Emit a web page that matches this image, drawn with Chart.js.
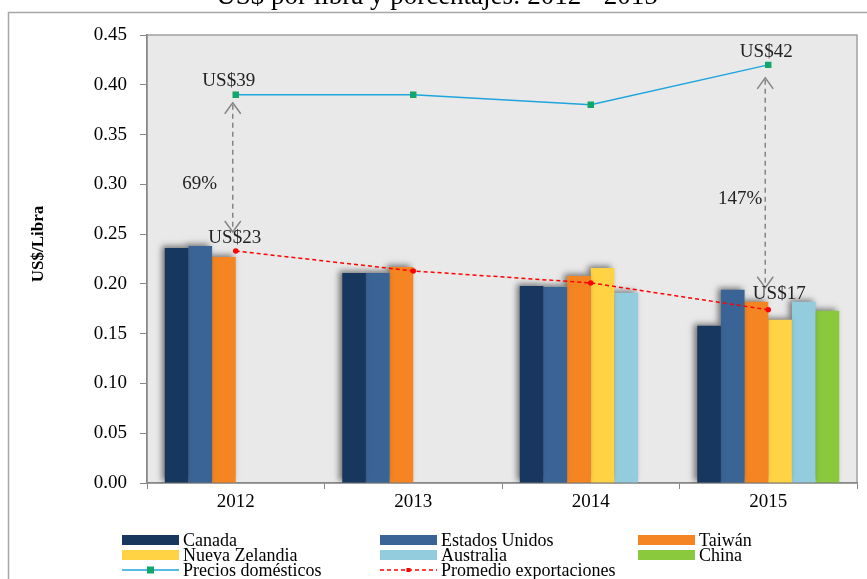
<!DOCTYPE html>
<html lang="es">
<head>
<meta charset="UTF-8">
<title>US$ por libra</title>
<style>
  html, body { margin: 0; padding: 0; background: #fff; }
  canvas { display: block; }
</style>
</head>
<body>
<canvas id="chart" width="867" height="579"></canvas>
<script src="https://cdn.jsdelivr.net/npm/chart.js@4.4.1/dist/chart.umd.min.js"></script>
<script>
// datos
var years = ['2012', '2013', '2014', '2015'];
var canada = [0.236, 0.211, 0.198, 0.158];
var estadosUnidos = [0.238, 0.211, 0.197, 0.194];
var taiwan = [0.227, 0.217, 0.208, 0.182];
var nuevaZelandia = [null, null, 0.216, 0.164];
var australia = [null, null, 0.191, 0.182];
var china = [null, null, null, 0.173];
var preciosDomesticos = [0.39, 0.39, 0.38, 0.42];
var promedioExportaciones = [0.233, 0.213, 0.201, 0.174];
var yTicks = [0, 0.05, 0.10, 0.15, 0.20, 0.25, 0.30, 0.35, 0.40, 0.45];

// flechas de diferencia: indice del año y textos
var brechas = [
  { idx: 0, pct: '69%', top: 'US$39', bottom: 'US$23' },
  { idx: 3, pct: '147%', top: 'US$42', bottom: 'US$17' }
];

var serif = '"Liberation Serif", "Times New Roman", serif';

var barColors = ['#17375e', '#3b6496', '#f58523', '#ffd344', '#93cddd', '#8ac83e'];
var barNames = ['Canada', 'Estados Unidos', 'Taiwán', 'Nueva Zelandia', 'Australia', 'China'];
var barData = [canada, estadosUnidos, taiwan, nuevaZelandia, australia, china];

var datasets = [];
datasets.push({
  type: 'line', label: 'Precios domésticos', data: preciosDomesticos,
  borderColor: '#1fa5dc', borderWidth: 1.5, pointStyle: 'rect', pointRadius: 3.5,
  pointBackgroundColor: '#12a66b', pointBorderColor: '#12a66b', order: 0
});
datasets.push({
  type: 'line', label: 'Promedio exportaciones', data: promedioExportaciones,
  borderColor: '#ff0000', borderWidth: 1.5, borderDash: [4, 3], pointRadius: 2,
  pointBackgroundColor: '#ff0000', pointBorderColor: '#ff0000', order: 1
});
for (var i = 0; i < barData.length; i++) {
  datasets.push({
    type: 'bar', label: barNames[i], data: barData[i],
    backgroundColor: barColors[i], borderWidth: 0,
    categoryPercentage: 0.8, barPercentage: 1.0, order: 10 + i
  });
}

var frame = {
  id: 'frame',
  beforeDraw: function (chart) {
    var c = chart.ctx, a = chart.chartArea;
    c.save();
    // marco externo
    c.strokeStyle = '#a6a6a6';
    c.lineWidth = 1.5;
    c.beginPath();
    c.moveTo(8.5, 600); c.lineTo(8.5, 12.5); c.lineTo(870, 12.5);
    c.stroke();
    // titulo (cortado arriba)
    c.fillStyle = '#000';
    c.font = '27px ' + serif;
    c.textAlign = 'center';
    c.textBaseline = 'alphabetic';
    c.fillText('US$ por libra y porcentajes: 2012 - 2015', 437, 4);
    // fondo del area de trazado
    c.fillStyle = '#e9e9e9';
    c.fillRect(a.left, a.top, a.right - a.left, a.bottom - a.top);
    c.strokeStyle = '#a0a0a0';
    c.lineWidth = 1.5;
    c.strokeRect(a.left, a.top, a.right - a.left, a.bottom - a.top);
    // titulo eje y
    c.translate(39, 244);
    c.rotate(-Math.PI / 2);
    c.font = 'bold 17px ' + serif;
    c.textAlign = 'center';
    c.textBaseline = 'middle';
    c.fillStyle = '#000';
    c.fillText('US$/Libra', 0, 0);
    c.restore();
  },
  beforeDatasetDraw: function (chart, args) {
    var ds = chart.data.datasets[args.index];
    chart.ctx.save();
    if (ds.type === 'bar') {
      chart.ctx.shadowColor = 'rgba(0,0,0,0.5)';
      chart.ctx.shadowBlur = 6;
      chart.ctx.shadowOffsetX = -3;
      chart.ctx.shadowOffsetY = -2;
    }
  },
  afterDatasetDraw: function (chart) {
    chart.ctx.restore();
  }
};

function arrowHead(c, x, y, dir) {
  c.beginPath();
  c.moveTo(x - 8, y + dir * 11);
  c.lineTo(x, y);
  c.lineTo(x + 8, y + dir * 11);
  c.stroke();
}

var notes = {
  id: 'notes',
  afterDatasetsDraw: function (chart) {
    var c = chart.ctx, xs = chart.scales.x, ys = chart.scales.y;
    c.save();
    brechas.forEach(function (b) {
      var px = xs.getPixelForValue(b.idx);
      var yTop = ys.getPixelForValue(preciosDomesticos[b.idx]);
      var yBot = ys.getPixelForValue(promedioExportaciones[b.idx]);
      var ax = px - 3;
      var t1 = yTop + (b.idx === 0 ? 8 : 13);
      var t2 = yBot - (b.idx === 0 ? 19 : 22);
      c.strokeStyle = '#858585';
      c.lineWidth = 1.5;
      c.setLineDash([5, 4]);
      c.beginPath();
      c.moveTo(ax, t1 + 2); c.lineTo(ax, t2 - 2);
      c.stroke();
      c.setLineDash([]);
      arrowHead(c, ax, t1, 1);
      arrowHead(c, ax, t2, -1);
      c.fillStyle = '#222';
      c.font = '19px ' + serif;
      c.textAlign = 'center';
      c.textBaseline = 'middle';
      if (b.idx === 0) {
        c.fillText(b.top, px - 7, yTop - 14);
        c.fillText(b.bottom, px - 1, yBot - 13);
        c.fillText(b.pct, px - 36, (t1 + t2) / 2 + 17);
      } else {
        c.fillText(b.top, px - 2, yTop - 13);
        c.fillText(b.bottom, px + 11, yBot - 16);
        c.fillText(b.pct, px - 28, (t1 + t2) / 2 + 16);
      }
    });
    c.restore();
  }
};

var legendGrid = {
  id: 'legendGrid',
  afterDraw: function (chart) {
    var c = chart.ctx;
    var order = barNames.concat(['Precios domésticos', 'Promedio exportaciones']);
    var colX = [122, 380, 638], rowY = [540, 555, 570];
    c.save();
    order.forEach(function (name, k) {
      var ds = chart.data.datasets.find(function (d) { return d.label === name; });
      var x = colX[k % 3], y = rowY[Math.floor(k / 3)];
      if (ds.type === 'bar') {
        c.fillStyle = ds.backgroundColor;
        c.fillRect(x, y - 5, 57, 10);
      } else {
        c.strokeStyle = ds.borderColor;
        c.lineWidth = 1.5;
        c.setLineDash(ds.borderDash || []);
        c.beginPath(); c.moveTo(x, y); c.lineTo(x + 57, y); c.stroke();
        c.setLineDash([]);
        c.fillStyle = ds.pointBackgroundColor;
        var r = ds.pointRadius;
        c.fillRect(x + 28.5 - r, y - r, 2 * r, 2 * r);
      }
      c.fillStyle = '#000';
      c.font = '18px ' + serif;
      c.textAlign = 'left';
      c.textBaseline = 'middle';
      c.fillText(name, x + 61, y + 1);
    });
    c.restore();
  }
};

new Chart(document.getElementById('chart'), {
  type: 'bar',
  data: { labels: years, datasets: datasets },
  plugins: [frame, notes, legendGrid],
  options: {
    responsive: false,
    animation: false,
    layout: { padding: { top: 35, right: 10, left: 0, bottom: 0 } },
    plugins: { legend: { display: false }, title: { display: false }, tooltip: { enabled: false } },
    scales: {
      x: {
        grid: { offset: true, drawOnChartArea: false, tickLength: 6, color: '#888' },
        border: { color: '#888', width: 1.5 },
        ticks: { color: '#000', font: { family: serif, size: 19 }, padding: 2 },
        afterFit: function (s) { s.height = 96; }
      },
      y: {
        min: 0, max: 0.45,
        afterBuildTicks: function (s) { s.ticks = yTicks.map(function (v) { return { value: v }; }); },
        grid: { drawOnChartArea: false, tickLength: 7, color: '#888' },
        border: { color: '#888', width: 1.5 },
        ticks: {
          color: '#000', font: { family: serif, size: 19 }, padding: 13,
          callback: function (v) { return Number(v).toFixed(2); }
        },
        afterFit: function (s) { s.width = 147; }
      }
    }
  }
});
</script>
</body>
</html>
